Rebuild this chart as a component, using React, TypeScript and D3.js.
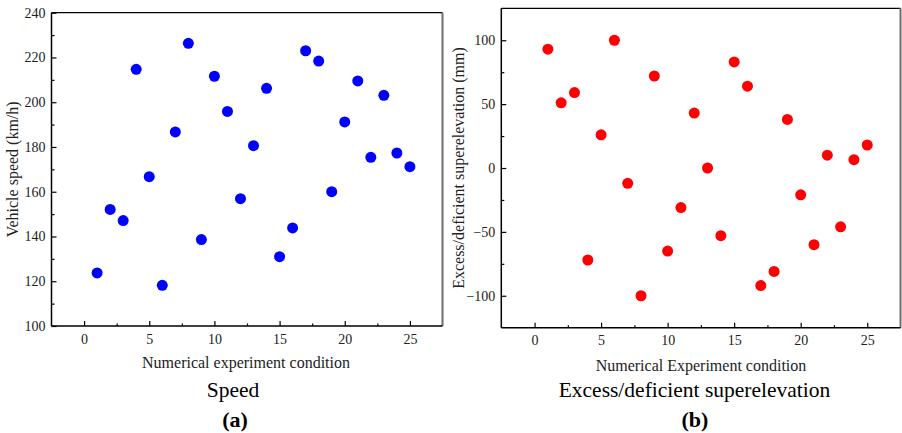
import React, { useEffect, useRef } from 'react';
import * as d3 from 'd3';

// experiment conditions 1..25
const conditions = [1, 2, 3, 4, 5, 6, 7, 8, 9, 10, 11, 12, 13, 14, 15, 16, 17, 18, 19, 20, 21, 22, 23, 24, 25];

// (a) vehicle speed, km/h
const speedValues = [123.7, 152.1, 147.1, 214.7, 166.7, 118.2, 186.7, 226.3, 138.6, 211.6, 195.9, 156.9, 180.6,
  206.2, 131.0, 143.8, 223.0, 218.4, 160.0, 191.2, 209.5, 175.4, 203.1, 177.3, 171.2];

// (b) excess/deficient superelevation, mm
const superValues = [93, 51, 59, -72, 26, 100, -12, -100, 72, -65, -31, 43, 0, -53, 83, 64, -92, -81, 38, -21,
  -60, 10, -46, 6.5, 18];

const xTicks = [0, 5, 10, 15, 20, 25];
const speedTicks = [100, 120, 140, 160, 180, 200, 220, 240];
const superTicks = [-100, -50, 0, 50, 100];

const FONT = '"Liberation Serif", "Times New Roman", serif';

function drawPanel(svg, opts) {
  var g = svg.append('g');
  var x = d3.scaleLinear().domain([-2.5, 27.5]).range([opts.left, opts.right]);
  var y = d3.scaleLinear().domain(opts.yDomain).range([opts.bottom, opts.top]);

  // frame: top black, right grey
  g.append('line')
    .attr('x1', opts.left).attr('x2', opts.right)
    .attr('y1', opts.top).attr('y2', opts.top)
    .attr('stroke', '#000').attr('stroke-width', 1.3);
  g.append('line')
    .attr('x1', opts.right).attr('x2', opts.right)
    .attr('y1', opts.top).attr('y2', opts.bottom)
    .attr('stroke', '#6e6e6e').attr('stroke-width', 2);

  // x axis, ticks pointing inwards (minor and major in separate groups)
  var xMinor = xTicks.slice(0, -1).map(t => t + 2.5);
  g.append('g').attr('class', 'axis')
    .attr('transform', `translate(0, ${opts.bottom})`)
    .call(d3.axisBottom(x).tickValues(xMinor).tickSize(-2.5).tickFormat(() => ''));
  var xAxis = g.append('g').attr('class', 'axis')
    .attr('transform', `translate(0, ${opts.bottom})`)
    .call(d3.axisBottom(x).tickValues(xTicks).tickSize(-5));
  xAxis.selectAll('text').attr('dy', 0).attr('y', 17.5);

  var yMinor = opts.yTicks.slice(0, -1).map((t, i) => (t + opts.yTicks[i + 1]) / 2);
  g.append('g').attr('class', 'axis')
    .attr('transform', `translate(${opts.left}, 0)`)
    .call(d3.axisLeft(y).tickValues(yMinor).tickSize(-3).tickFormat(() => ''));
  g.append('g').attr('class', 'axis')
    .attr('transform', `translate(${opts.left}, 0)`)
    .call(d3.axisLeft(y).tickValues(opts.yTicks).tickSize(-5).tickPadding(6));

  g.selectAll('.axis .domain').remove();
  g.selectAll('.axis')
    .attr('font-family', FONT)
    .attr('font-size', 14);
  g.selectAll('.tick line').attr('stroke', '#000').attr('stroke-width', 1.2);
  g.selectAll('.tick text')
    .style('font-family', FONT)
    .style('font-size', '14px')
    .attr('fill', '#222');

  // left + bottom axis lines
  g.append('line')
    .attr('x1', opts.left).attr('x2', opts.right)
    .attr('y1', opts.bottom).attr('y2', opts.bottom)
    .attr('stroke', '#000').attr('stroke-width', 1.5);
  g.append('line')
    .attr('x1', opts.left).attr('x2', opts.left)
    .attr('y1', opts.top).attr('y2', opts.bottom)
    .attr('stroke', '#000').attr('stroke-width', 1.5);

  g.selectAll('.pt')
    .data(opts.values)
    .join('circle')
    .attr('class', 'pt')
    .attr('cx', (d, i) => x(conditions[i]))
    .attr('cy', d => y(d))
    .attr('r', 5.5)
    .style('fill', opts.color);

  g.append('text')
    .attr('x', opts.xLabelX).attr('y', opts.xLabelY)
    .attr('text-anchor', 'middle')
    .attr('font-family', FONT).attr('font-size', 16).attr('fill', '#222')
    .text(opts.xLabel);

  g.append('text')
    .attr('transform', `translate(${opts.yLabelX}, ${(opts.top + opts.bottom) / 2}) rotate(-90)`)
    .attr('text-anchor', 'middle')
    .attr('font-family', FONT).attr('font-size', 16).attr('fill', '#222')
    .text(opts.yLabel);

  g.append('text')
    .attr('x', opts.titleX).attr('y', 397)
    .attr('text-anchor', 'middle')
    .attr('font-family', FONT).attr('font-size', 21.5).attr('fill', '#000')
    .text(opts.title);

  g.append('text')
    .attr('x', opts.tagX).attr('y', 427)
    .attr('text-anchor', 'middle')
    .attr('font-family', FONT).attr('font-size', 22).attr('font-weight', 'bold').attr('fill', '#000')
    .text(opts.tag);
}

export default function App() {
  const ref = useRef(null);

  useEffect(() => {
    var svg = d3.select(ref.current);
    svg.selectAll('*').remove();

    drawPanel(svg, {
      left: 51.5, right: 442.5, top: 12.7, bottom: 326,
      yDomain: [100, 240], yTicks: speedTicks, values: speedValues, color: '#0000ff',
      xLabel: 'Numerical experiment condition', xLabelX: 246, xLabelY: 368,
      yLabel: 'Vehicle speed (km/h)', yLabelX: 18,
      title: 'Speed', titleX: 233, tag: '(a)', tagX: 235,
    });

    drawPanel(svg, {
      left: 501.3, right: 900.5, top: 8.3, bottom: 327.7,
      yDomain: [-125, 125], yTicks: superTicks, values: superValues, color: '#ff0000',
      xLabel: 'Numerical Experiment condition', xLabelX: 701, xLabelY: 371,
      yLabel: 'Excess/deficient superelevation (mm)', yLabelX: 464,
      title: 'Excess/deficient superelevation', titleX: 694.5, tag: '(b)', tagX: 695,
    });
  }, []);

  return (
    <svg ref={ref} width={902} height={433}
      style={{ position: 'absolute', left: 0, top: 0, background: '#fff' }} />
  );
}
